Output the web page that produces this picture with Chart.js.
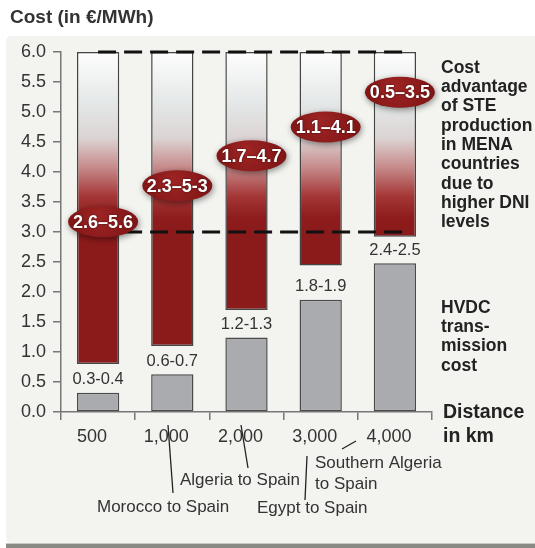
<!DOCTYPE html>
<html>
<head>
<meta charset="utf-8">
<script src="https://cdn.jsdelivr.net/npm/chart.js@4.4.1/dist/chart.umd.min.js"></script>
<style>
  html, body { margin: 0; background: #fff; }
  canvas { display: block; }
</style>
</head>
<body>
<canvas id="chart" width="535" height="548"></canvas>
<script>
// transmission distance (km) per category
const distances = ['500', '1,000', '2,000', '3,000', '4,000'];
// HVDC transmission cost, €/MWh
const hvdcCost = [0.32, 0.63, 1.24, 1.87, 2.48];
const hvdcLabels = ['0.3-0.4', '0.6-0.7', '1.2-1.3', '1.8-1.9', '2.4-2.5'];
// cost advantage band (floating bar from low to high)
const advantageLow = [0.8, 1.1, 1.7, 2.44, 2.92];
const advantageHigh = [6.0, 6.0, 6.0, 6.0, 6.0];
const advantageLabels = ['2.6–5.6', '2.3–5-3', '1.7–4.7', '1.1–4.1', '0.5–3.5'];
const advantageLabelAt = [3.17, 3.77, 4.27, 4.75, 5.33];
// dashed reference levels
const refLevels = [6.0, 3.0];

const FONT = "'Liberation Sans', Arial, sans-serif";
const DARK_RED = '#8b1a1a';

function advantageFill(c) {
  const chart = c.chart;
  if (!chart.chartArea) return DARK_RED;
  const y = chart.scales.y;
  const top = y.getPixelForValue(6), bot = y.getPixelForValue(3);
  const g = chart.ctx.createLinearGradient(0, top, 0, bot);
  g.addColorStop(0, '#fdfdfd');
  g.addColorStop(0.3, '#e3e6e6');
  g.addColorStop(0.48, '#dcd3d3');
  g.addColorStop(0.64, '#c78b8b');
  g.addColorStop(0.8, '#a53737');
  g.addColorStop(0.92, '#8e1c1c');
  g.addColorStop(1, DARK_RED);
  return g;
}

// panel background + title
const panel = {
  id: 'panel',
  beforeDraw(chart) {
    const ctx = chart.ctx;
    ctx.save();
    ctx.fillStyle = '#fff';
    ctx.fillRect(0, 0, 535, 548);
    ctx.fillStyle = '#8a8a85';
    ctx.fillRect(6, 543, 529, 5);
    ctx.fillStyle = '#f3f3f0';
    ctx.beginPath();
    ctx.roundRect(6, 36, 540, 507, 5);
    ctx.fill();
    ctx.fillStyle = '#c9c9c5';
    ctx.fillRect(6, 543, 529, 1);
    ctx.fillStyle = '#333';
    ctx.font = 'bold 19px ' + FONT;
    ctx.textBaseline = 'middle';
    ctx.fillText('Cost (in €/MWh)', 10, 18);
    ctx.restore();
  }
};

// dashed levels, value labels, ellipse badges
const overlays = {
  id: 'overlays',
  afterDatasetsDraw(chart) {
    const ctx = chart.ctx;
    const x = chart.scales.x, y = chart.scales.y;
    ctx.save();
    ctx.strokeStyle = '#111';
    ctx.lineWidth = 3;
    ctx.setLineDash([18, 8]);
    refLevels.forEach(v => {
      const py = y.getPixelForValue(v);
      ctx.beginPath();
      ctx.moveTo(x.getPixelForValue(0), py);
      ctx.lineTo(x.getPixelForValue(4) + 8, py);
      ctx.stroke();
    });
    ctx.setLineDash([]);

    ctx.fillStyle = '#333';
    ctx.font = '16.5px ' + FONT;
    ctx.textAlign = 'center';
    ctx.textBaseline = 'middle';
    hvdcCost.forEach((v, i) => {
      ctx.fillText(hvdcLabels[i], x.getPixelForValue(i), y.getPixelForValue(v) - 13);
    });

    advantageLabels.forEach((t, i) => {
      const cx = x.getPixelForValue(i) + 5, cy = y.getPixelForValue(advantageLabelAt[i]);
      ctx.save();
      ctx.shadowColor = 'rgba(0,0,0,0.45)';
      ctx.shadowBlur = 6;
      ctx.shadowOffsetX = 1;
      ctx.shadowOffsetY = 2;
      const g = ctx.createRadialGradient(cx - 6, cy - 6, 2, cx, cy, 36);
      g.addColorStop(0, '#9c2424');
      g.addColorStop(1, '#7f1414');
      ctx.fillStyle = g;
      ctx.beginPath();
      ctx.ellipse(cx, cy, 35, 15.5, 0, 0, Math.PI * 2);
      ctx.fill();
      ctx.restore();
      ctx.save();
      ctx.font = 'bold 18px ' + FONT;
      ctx.fillStyle = '#fff';
      ctx.shadowColor = 'rgba(0,0,0,0.6)';
      ctx.shadowBlur = 2;
      ctx.fillText(t, cx, cy + 1);
      ctx.restore();
    });
    ctx.restore();
  },
  afterDraw(chart) {
    const ctx = chart.ctx;
    ctx.save();
    ctx.fillStyle = '#222';
    ctx.textBaseline = 'middle';
    ctx.font = 'bold 17.5px ' + FONT;
    ['Cost', 'advantage', 'of STE', 'production', 'in MENA', 'countries', 'due to', 'higher DNI', 'levels']
      .forEach((s, i) => ctx.fillText(s, 441, 68 + i * 19.3));
    ['HVDC', 'trans-', 'mission', 'cost']
      .forEach((s, i) => ctx.fillText(s, 441, 308 + i * 19.3));
    ctx.font = 'bold 19.5px ' + FONT;
    ctx.fillText('Distance', 443, 413);
    ctx.fillText('in km', 443, 437);

    // route callouts under the axis
    ctx.fillStyle = '#333';
    ctx.font = '17px ' + FONT;
    ctx.fillText('Morocco to Spain', 97, 507);
    ctx.fillText('Algeria to Spain', 180, 480);
    ctx.fillText('Southern Algeria', 315, 463);
    ctx.fillText('to Spain', 315, 484);
    ctx.fillText('Egypt to Spain', 257, 508);
    ctx.strokeStyle = '#222';
    ctx.lineWidth = 1.3;
    [[168, 425, 173, 493], [241, 425, 248, 468], [307, 456, 305, 500], [342, 449, 356, 441]]
      .forEach(([a, b, c, d]) => {
        ctx.beginPath();
        ctx.moveTo(a, b);
        ctx.lineTo(c, d);
        ctx.stroke();
      });
    ctx.restore();
  }
};

new Chart(document.getElementById('chart'), {
  type: 'bar',
  data: {
    labels: distances,
    datasets: [
      {
        label: 'HVDC transmission cost',
        data: hvdcCost,
        backgroundColor: '#a9abae',
        borderColor: '#4a4a4a',
        borderWidth: 1.5,
        borderSkipped: false,
        grouped: false,
        barPercentage: 0.57,
        categoryPercentage: 1
      },
      {
        label: 'Cost advantage',
        data: advantageLow.map((v, i) => [v, advantageHigh[i]]),
        backgroundColor: advantageFill,
        borderColor: '#444',
        borderWidth: 1.5,
        borderSkipped: false,
        grouped: false,
        barPercentage: 0.57,
        categoryPercentage: 1
      }
    ]
  },
  options: {
    responsive: false,
    animation: false,
    devicePixelRatio: 1,
    layout: { padding: { top: 52, right: 103, bottom: 100, left: 0 } },
    plugins: { legend: { display: false }, tooltip: { enabled: false } },
    scales: {
      x: {
        grid: { offset: true, drawOnChartArea: false, tickLength: 8, color: '#777', lineWidth: 1.5 },
        border: { color: '#777', width: 1.5 },
        ticks: { font: { size: 18, family: FONT }, color: '#333', padding: 6, labelOffset: -6 },
        afterFit: s => { s.height = 36; }
      },
      y: {
        min: 0, max: 6,
        grid: { drawOnChartArea: false, tickLength: 8, color: '#777', lineWidth: 1.5 },
        border: { color: '#777', width: 1.5 },
        ticks: { stepSize: 0.5, callback: v => v.toFixed(1), font: { size: 18, family: FONT }, color: '#333', padding: 7 },
        afterFit: s => { s.width = 61; }
      }
    }
  },
  plugins: [panel, overlays]
});
</script>
</body>
</html>
